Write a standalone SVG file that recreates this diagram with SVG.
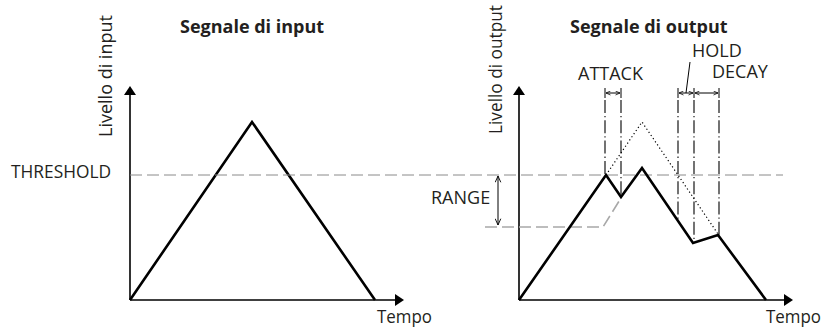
<svg xmlns="http://www.w3.org/2000/svg" width="824" height="327" viewBox="0 0 824 327">
<defs>
<style>
.t{font-family:"Open Sans","Noto Sans",sans-serif;font-size:18px;fill:#231f20}
.b{font-family:"Open Sans","Noto Sans",sans-serif;font-size:18px;font-weight:bold;fill:#231f20}
.ax{stroke:#000;stroke-width:1.6;fill:none}
.sig{stroke:#000;stroke-width:2.6;fill:none;stroke-linejoin:miter}
.thr{stroke:#8a8a8a;stroke-width:1;fill:none;stroke-dasharray:12 5}
.rng{stroke:#a8a8a8;stroke-width:1.6;fill:none;stroke-dasharray:12 5}
.dot{stroke:#000;stroke-width:1.2;fill:none;stroke-dasharray:1.2 2.6}
.dd{stroke:#000;stroke-width:1.1;fill:none;stroke-dasharray:13 3 1.3 3}
.dim{stroke:#000;stroke-width:1;fill:none}
.ah{fill:#000}
</style>
<marker id="oa" viewBox="0 0 10 10" refX="10" refY="5" markerWidth="7" markerHeight="7" orient="auto-start-reverse" markerUnits="userSpaceOnUse">
<path d="M1,1 L10,5 L1,9" fill="none" stroke="#000" stroke-width="1.3"/>
</marker>
<marker id="sa" viewBox="0 0 10 10" refX="10" refY="5" markerWidth="5" markerHeight="5" orient="auto-start-reverse" markerUnits="userSpaceOnUse">
<path d="M1,1 L10,5 L1,9" fill="none" stroke="#000" stroke-width="1.5"/>
</marker>
</defs>

<g id="input-panel">
<text class="b" x="180" y="33">Segnale di input</text>
<text class="t" transform="translate(112,137) rotate(-90)">Livello di input</text>
<text class="t" x="11" y="178" textLength="100" lengthAdjust="spacingAndGlyphs">THRESHOLD</text>
<text class="t" x="377" y="323" textLength="55" lengthAdjust="spacingAndGlyphs">Tempo</text>
<path class="ax" d="M130,300 V93"/>
<path class="ah" d="M130,86 L124,95 L136,95 Z"/>
<path class="ax" d="M130,300 H396"/>
<path class="ah" d="M404,300 L395,294 L395,306 Z"/>
<path class="sig" d="M130,300 L252,122 L375,300"/>
</g>

<g id="threshold">
<path class="thr" d="M130,175 H783"/>
</g>

<g id="output-panel">
<text class="b" x="570" y="33">Segnale di output</text>
<text class="t" transform="translate(502,134) rotate(-90)" textLength="129" lengthAdjust="spacingAndGlyphs">Livello di output</text>
<text class="t" x="766" y="323" textLength="55" lengthAdjust="spacingAndGlyphs">Tempo</text>
<path class="ax" d="M519,300 V93"/>
<path class="ah" d="M519,86 L513,95 L525,95 Z"/>
<path class="ax" d="M519,300 H785"/>
<path class="ah" d="M793,300 L784,294 L784,306 Z"/>
<path class="rng" d="M485,227 H603 L621,198"/>
<path class="dot" d="M606,175 L642,122 L718,234"/>
<path class="sig" d="M519,300 L606,175 L621,197 L642,168 L693,243 L718,235 L766,300"/>
</g>

<g id="range">
<text class="t" x="431" y="204">RANGE</text>
<path class="dim" d="M498,176 V225" marker-start="url(#oa)" marker-end="url(#oa)"/>
</g>

<g id="connectors">
<path class="dim" d="M605,88 V98 M621,88 V98 M678,88 V98 M694,88 V98 M719,88 V98"/>
<path class="dd" d="M605,100 V175"/>
<path class="dd" d="M621,100 V197"/>
<path class="dd" d="M678,100 V221"/>
<path class="dd" d="M694,100 V243"/>
<path class="dd" d="M719,100 V235"/>
<path class="dim" d="M606,93 H620" marker-start="url(#sa)" marker-end="url(#sa)"/>
<path class="dim" d="M679,93 H693" marker-start="url(#sa)" marker-end="url(#sa)"/>
<path class="dim" d="M695,93 H718" marker-start="url(#sa)" marker-end="url(#sa)"/>
<path class="dim" d="M690,62 L686,93"/>
</g>

<g id="labels">
<text class="t" x="578" y="80">ATTACK</text>
<text class="t" x="692" y="57">HOLD</text>
<text class="t" x="712" y="78">DECAY</text>
</g>
</svg>
